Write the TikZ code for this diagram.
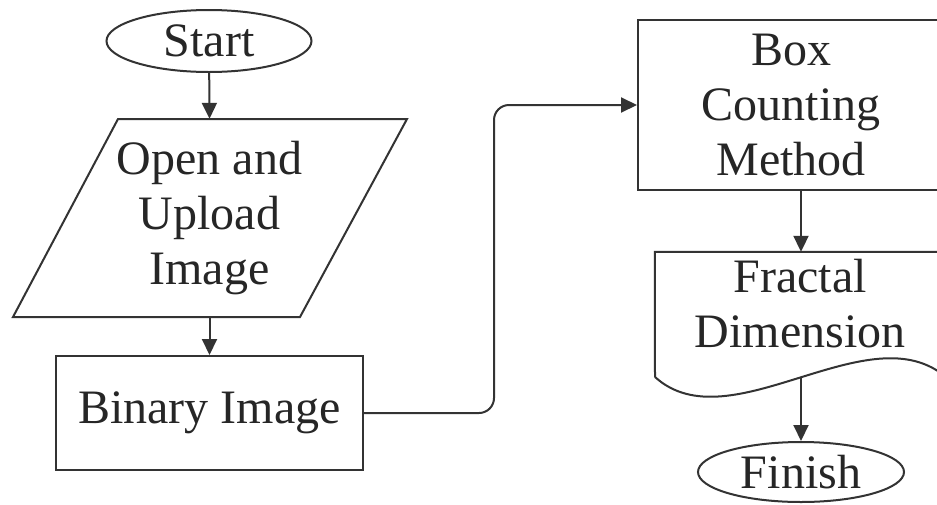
\documentclass[tikz,border=0pt]{standalone}
\usepackage{fontspec}
\setmainfont{Liberation Serif}
\usetikzlibrary{shapes.geometric,arrows.meta}
\begin{document}
\begin{tikzpicture}[x=1pt,y=-1pt,
  every node/.style={font=\fontsize{48}{55}\selectfont, text=black!85, align=center, inner sep=0pt},
  line/.style={draw=black!80, line width=2pt},
  arr/.style={line, -{Triangle[length=16pt,width=15pt]}},
  term/.style={line, ellipse, minimum width=205pt, minimum height=62pt},
  procbox/.style={line, rectangle}
]
\clip (0,0) rectangle (937,504);
\fill[white] (0,0) rectangle (937,504);

% Start
\node[term] (start) at (209,41) {Start};

% Input parallelogram
\node[minimum width=289pt, minimum height=198pt] (inp) at (209.5,218) {Open and\\Upload\\Image};
\coordinate (p1) at (118,119);
\coordinate (p2) at (407,119);
\coordinate (p3) at (300,317);
\coordinate (p4) at (13,317);
\draw[line, line join=miter] (p1) -- (p2) -- (p3) -- (p4) -- cycle;

% Binary image
\node[procbox, minimum width=307pt, minimum height=114pt] (bin) at (209.5,413) {Binary Image};

% Box counting
\node[procbox, minimum width=306pt, minimum height=170pt] (box) at (791,105) {Box\\Counting\\Method};

% Fractal dimension (document)
\node[minimum width=292pt, minimum height=126pt] (frac) at (801,315) {};
\node (fractxt) at (800,304) {Fractal\\Dimension};
\draw[line, line join=miter] (655,377) -- (frac.north west) -- (frac.north east) -- (947,378)
  .. controls (870,310) and (730,445) .. (655,377);

% Finish
\node[term, minimum width=206pt, minimum height=60pt] (fin) at (801,472) {Finish};

% connectors
\draw[arr] (start) -- (inp.north);
\draw[arr] (inp.south) -- (bin.north);
\draw[arr, rounded corners=15pt] (bin.east) -- ++(130,0) |- (box.west);
\draw[arr] (box.south -| fin.north) -- (frac.north -| fin.north);
\coordinate (wv) at (801,377);
\draw[arr] (wv) -- (fin.north);
\end{tikzpicture}
\end{document}
